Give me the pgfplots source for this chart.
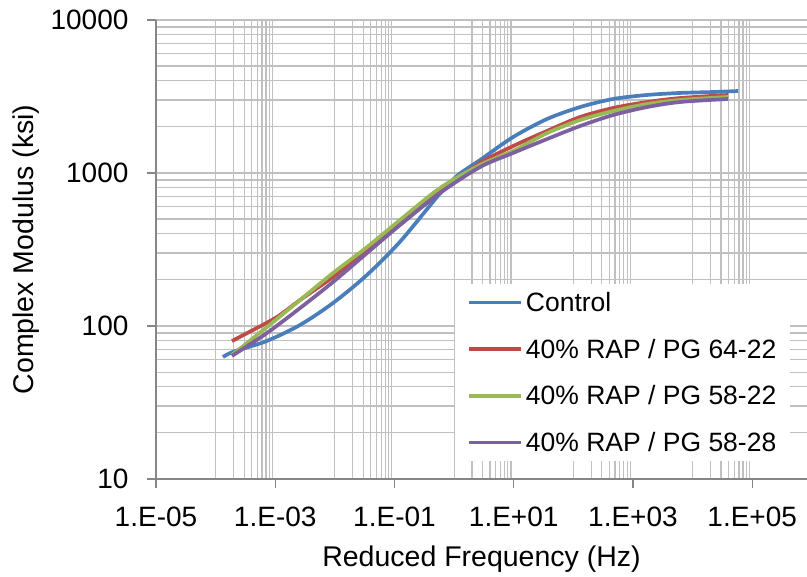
\documentclass[border=0pt]{standalone}
\usepackage{pgfplots}
\pgfplotsset{compat=1.18}
\usepackage{fontspec}
\setmainfont{Liberation Sans}
\definecolor{cBlue}{HTML}{4A7EBB}
\definecolor{cRed}{HTML}{BE4B48}
\definecolor{cGreen}{HTML}{98B954}
\definecolor{cPurple}{HTML}{7D60A0}
\definecolor{gridc}{HTML}{C0C0C0}
\definecolor{axisc}{HTML}{868686}
\begin{document}
\begin{tikzpicture}
\begin{loglogaxis}[
  at={(0pt,0pt)}, anchor=south west,
  scale only axis, width=651pt, height=459pt,
  xmin=1e-5, xmax=8.3e5, ymin=10, ymax=10000,
  axis lines*=left,
  axis line style={axisc, line width=1.2pt},
  xtick={1e-5,1e-3,1e-1,1e1,1e3,1e5},
  xticklabels={1.E-05,1.E-03,1.E-01,1.E+01,1.E+03,1.E+05},
  ytick={10,100,1000,10000},
  yticklabels={10,100,1000,10000},
  minor xtick={1e-4,2e-4,3e-4,4e-4,5e-4,6e-4,7e-4,8e-4,9e-4,
               1e-2,2e-2,3e-2,4e-2,5e-2,6e-2,7e-2,8e-2,9e-2,
               1,2,3,4,5,6,7,8,9,
               100,200,300,400,500,600,700,800,900,
               1e4,2e4,3e4,4e4,5e4,6e4,7e4,8e4,9e4},
  minor ytick={20,30,40,50,60,70,80,90,200,300,400,500,600,700,800,900,
               2000,3000,4000,5000,6000,7000,8000,9000},
  xminorgrids, ymajorgrids, yminorgrids,
  major grid style={gridc, line width=1.1pt},
  minor grid style={gridc, line width=1.1pt},
  tick align=outside, major tick length=9pt, minor tick length=0pt,
  tick style={axisc, line width=1.2pt},
  ticklabel style={font=\fontsize{28}{33}\selectfont},
  /pgf/number format/assume math mode=true,
  xticklabel style={yshift=-15pt},
  yticklabel style={xshift=-15pt},
  xlabel={Reduced Frequency (Hz)},
  ylabel={Complex Modulus (ksi)},
  xlabel style={at={(axis description cs:0.5,-0.175)}, anchor=center, font=\fontsize{28.5}{34}\selectfont},
  ylabel style={at={(axis description cs:-0.1997,0.5)}, anchor=center, font=\fontsize{28.5}{34}\selectfont},
  legend style={at={(axis description cs:0.4593,0.4250)}, anchor=north west,
    draw=none, fill=white, font=\fontsize{26.5}{31}\selectfont,
    inner xsep=12pt, inner ysep=6pt, row sep=22pt,
    /tikz/every odd column/.append style={column sep=1pt}},
  legend cell align=left,
  legend image code/.code={\draw[#1] (0pt,0pt) -- (52pt,0pt);},
  every axis plot/.append style={line width=3.7pt, smooth, tension=0.5},
]
\addplot[cBlue] coordinates {(1.33e-4,62.7) (1.98e-4,67.9) (7.19e-4,79.8) (2.61e-3,101.6) (9.44e-3,141.9) (0.0343,215) (0.124,355.6) (0.582,736) (1.17,970) (2.73,1216) (9.77,1718) (36.3,2254) (130,2698) (466,3047) (1730,3236) (6195,3336) (22180,3383) (58210,3434)};
\addlegendentry{Control}
\addplot[cRed] coordinates {(1.88e-4,79.8) (4.25e-4,94.2) (1.07e-3,114.5) (2.61e-3,147.9) (9.33e-3,209) (0.0347,314) (0.124,479) (0.582,751) (2.73,1162) (9.77,1500) (36.3,1884) (130,2323) (466,2660) (1730,2911) (6195,3090) (39550,3236)};
\addlegendentry{40\% RAP / PG 64-22}
\addplot[cGreen] coordinates {(1.88e-4,64.6) (7.27e-4,98.4) (2.61e-3,147.9) (9.33e-3,222) (0.0347,328) (0.124,493) (0.582,798) (2.73,1130) (9.77,1393) (36.3,1824) (130,2218) (466,2541) (1730,2825) (6195,3000) (39550,3140)};
\addlegendentry{40\% RAP / PG 58-22}
\addplot[cPurple] coordinates {(1.88e-4,63.7) (7.27e-4,90.0) (2.61e-3,131) (9.33e-3,194) (0.0347,300) (0.124,457) (0.582,740) (2.73,1094) (9.77,1352) (36.3,1667) (130,2028) (466,2393) (1730,2698) (6195,2911) (39550,3047)};
\addlegendentry{40\% RAP / PG 58-28}
\end{loglogaxis}
\pgfresetboundingbox
\path (-156pt,-98pt) rectangle (651pt,479pt);
\end{tikzpicture}
\end{document}
